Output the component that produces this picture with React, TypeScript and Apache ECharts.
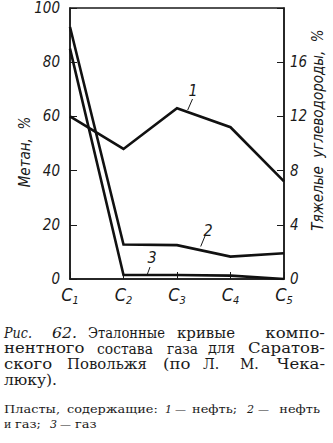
import React, { useEffect, useRef } from 'react';
import * as echarts from 'echarts';

// Components along the x axis (C1 = methane, C2..C5 = heavy hydrocarbons)
const categories = ['C1', 'C2', 'C3', 'C4', 'C5'];
// Methane content (left axis, %) for curves 1, 2, 3
const methane = [60, 93, 85];
// Heavy hydrocarbons C2..C5 (right axis, %)
const heavyOil = [9.6, 12.6, 11.2, 7.2];        // curve 1 — oil
const heavyOilGas = [2.55, 2.5, 1.65, 1.9];     // curve 2 — oil and gas
const heavyGas = [0.3, 0.3, 0.25, 0];           // curve 3 — gas
const leftMax = 100;
const rightMax = 20;
const leftInterval = 20;
const rightInterval = 4;
const curveNames = ['1', '2', '3'];

const sansNarrow = "'Liberation Sans Narrow', 'DejaVu Sans Condensed', 'Liberation Sans', sans-serif";
const serif = "'DejaVu Serif', 'Liberation Serif', serif";

// [text, left, right, italic, anchorRight]
type Word = [string, number, number, boolean?, boolean?];

export default function App() {
  const ref = useRef<HTMLDivElement>(null);

  useEffect(() => {
    if (!ref.current) return;
    const chart = echarts.init(ref.current, null, { renderer: 'svg' });
    const ratio = leftMax / rightMax;
    const toLeft = (h: number[]) => h.map((v) => v * ratio);
    const curves = [
      [methane[0], ...toLeft(heavyOil)],
      [methane[1], ...toLeft(heavyOilGas)],
      [methane[2], ...toLeft(heavyGas)],
    ];

    const ctx = document.createElement('canvas').getContext('2d')!;
    const word = (w: Word, y: number, size: number) => {
      const [text, x0, x1, italic, anchorRight] = w;
      const fontStyle = italic ? 'italic' : 'normal';
      ctx.font = `${fontStyle} ${size}px ${serif}`;
      const mw = ctx.measureText(text).width || 1;
      let sx = text.length > 2 ? (x1 - x0) / mw : 1;
      sx = Math.min(1.18, Math.max(0.85, sx));
      const x = anchorRight ? x1 - mw * sx : x0;
      return {
        type: 'text',
        x,
        y,
        scaleX: sx,
        style: {
          text,
          fontFamily: serif,
          fontSize: size,
          fontStyle,
          fill: '#1a1a1a',
          align: 'left',
          verticalAlign: 'middle',
        },
      };
    };

    const caption: { y: number; size: number; words: Word[] }[] = [
      { y: 333, size: 14, words: [['Рис.', 4, 32, true], ['62.', 52, 77, true], ['Эталонные', 88, 165], ['кривые', 177, 235], ['компо-', 252, 325, false, true]] },
      { y: 348.5, size: 14, words: [['нентного', 4, 85], ['состава', 97, 153], ['газа', 167, 198], ['для', 208, 235], ['Саратов-', 245, 325, false, true]] },
      { y: 364, size: 14, words: [['ского', 4, 53], ['Повольжя', 67, 147], ['(по', 163, 192], ['Л.', 203, 223], ['М.', 240, 263], ['Чека-', 275, 325, false, true]] },
      { y: 380, size: 14, words: [['люку).', 4, 57]] },
      { y: 409, size: 11, words: [['Пласты,', 4, 60], ['содержащие:', 67, 158], ['1', 165, 168, true], ['—', 175, 187], ['нефть;', 192, 240], ['2', 247, 252, true], ['—', 258, 270], ['нефть', 273, 320, false, true]] },
      { y: 424, size: 11, words: [['и', 4, 10], ['газ;', 15, 45], ['3', 50, 55, true], ['—', 60, 72], ['газ', 75, 100]] },
    ];
    const captionEls: any[] = [];
    caption.forEach((l) => l.words.forEach((w) => captionEls.push(word(w, l.y, l.size))));

    const titleStyle = (text: string) => ({
      text,
      fontFamily: sansNarrow,
      fontSize: 15,
      fontStyle: 'italic',
      fill: '#1a1a1a',
      align: 'center',
      verticalAlign: 'middle',
    });
    const numStyle = (text: string) => ({
      text,
      fontFamily: sansNarrow,
      fontSize: 16,
      fontStyle: 'italic',
      fill: '#1a1a1a',
      align: 'center',
      verticalAlign: 'middle',
    });
    const leader = (x1: number, y1: number, x2: number, y2: number) => ({
      type: 'line',
      shape: { x1, y1, x2, y2 },
      style: { stroke: '#1a1a1a', lineWidth: 1 },
    });

    const axisFont = {
      fontFamily: sansNarrow,
      fontSize: 15,
      fontStyle: 'italic',
      color: '#1a1a1a',
    };

    const option: any = {
      animation: false,
      backgroundColor: '#fff',
      grid: {
        left: 70,
        right: 49,
        top: 8,
        bottom: 164,
        show: true,
        borderColor: '#1a1a1a',
        borderWidth: 1.5,
        backgroundColor: 'transparent',
      },
      xAxis: {
        type: 'category',
        data: categories,
        boundaryGap: false,
        axisLine: { show: true, lineStyle: { color: '#1a1a1a', width: 1.5 } },
        axisTick: { show: true, inside: true, length: 7, lineStyle: { color: '#1a1a1a', width: 1 } },
        splitLine: { show: false },
        axisLabel: {
          interval: 0,
          margin: 6,
          formatter: (v: string) => `{c|C}{s|${v.slice(1)}}`,
          rich: {
            c: { fontFamily: sansNarrow, fontSize: 18, fontStyle: 'italic', color: '#1a1a1a', verticalAlign: 'top', lineHeight: 17 },
            s: { fontFamily: sansNarrow, fontSize: 11, fontStyle: 'italic', color: '#1a1a1a', verticalAlign: 'top', lineHeight: 11, padding: [10, 0, 0, 0] },
          },
        },
      },
      yAxis: [
        {
          type: 'value',
          min: 0,
          max: leftMax,
          interval: leftInterval,
          position: 'left',
          axisLine: { show: true, lineStyle: { color: '#1a1a1a', width: 1.5 } },
          axisTick: { show: true, inside: true, length: 7, lineStyle: { color: '#1a1a1a', width: 1 } },
          splitLine: { show: false },
          axisLabel: { ...axisFont, margin: 10 },
        },
        {
          type: 'value',
          min: 0,
          max: rightMax,
          interval: rightInterval,
          position: 'right',
          axisLine: { show: true, lineStyle: { color: '#1a1a1a', width: 1.5 } },
          axisTick: { show: true, inside: true, length: 7, lineStyle: { color: '#1a1a1a', width: 1 } },
          splitLine: { show: false },
          axisLabel: {
            ...axisFont,
            margin: 6,
            formatter: (v: number) => (v >= rightMax ? '' : String(v)),
          },
        },
      ],
      series: curves.map((d, i) => ({
        type: 'line',
        name: curveNames[i],
        yAxisIndex: 0,
        data: d,
        showSymbol: false,
        symbol: 'none',
        lineStyle: { color: '#111', width: 2.6, join: 'miter' },
        z: 3,
      })),
      graphic: [
        { type: 'text', x: 25, y: 152, rotation: Math.PI / 2, style: titleStyle('Метан,  %') },
        { type: 'text', x: 318, y: 130, rotation: Math.PI / 2, style: titleStyle('Тяжелые  углеводороды,  %') },
        { type: 'text', x: 193, y: 90, style: numStyle(curveNames[0]) },
        leader(192.5, 99, 187.7, 110),
        { type: 'text', x: 208, y: 230, style: numStyle(curveNames[1]) },
        leader(205, 236, 200.7, 246.5),
        { type: 'text', x: 152, y: 257, style: numStyle(curveNames[2]) },
        leader(150, 267, 146.7, 276),
        ...captionEls,
      ],
    };
    chart.setOption(option);
    return () => chart.dispose();
  }, []);

  return (
    <div
      ref={ref}
      style={{ position: 'absolute', left: 0, top: 0, width: 333, height: 443, background: '#fff' }}
    />
  );
}
